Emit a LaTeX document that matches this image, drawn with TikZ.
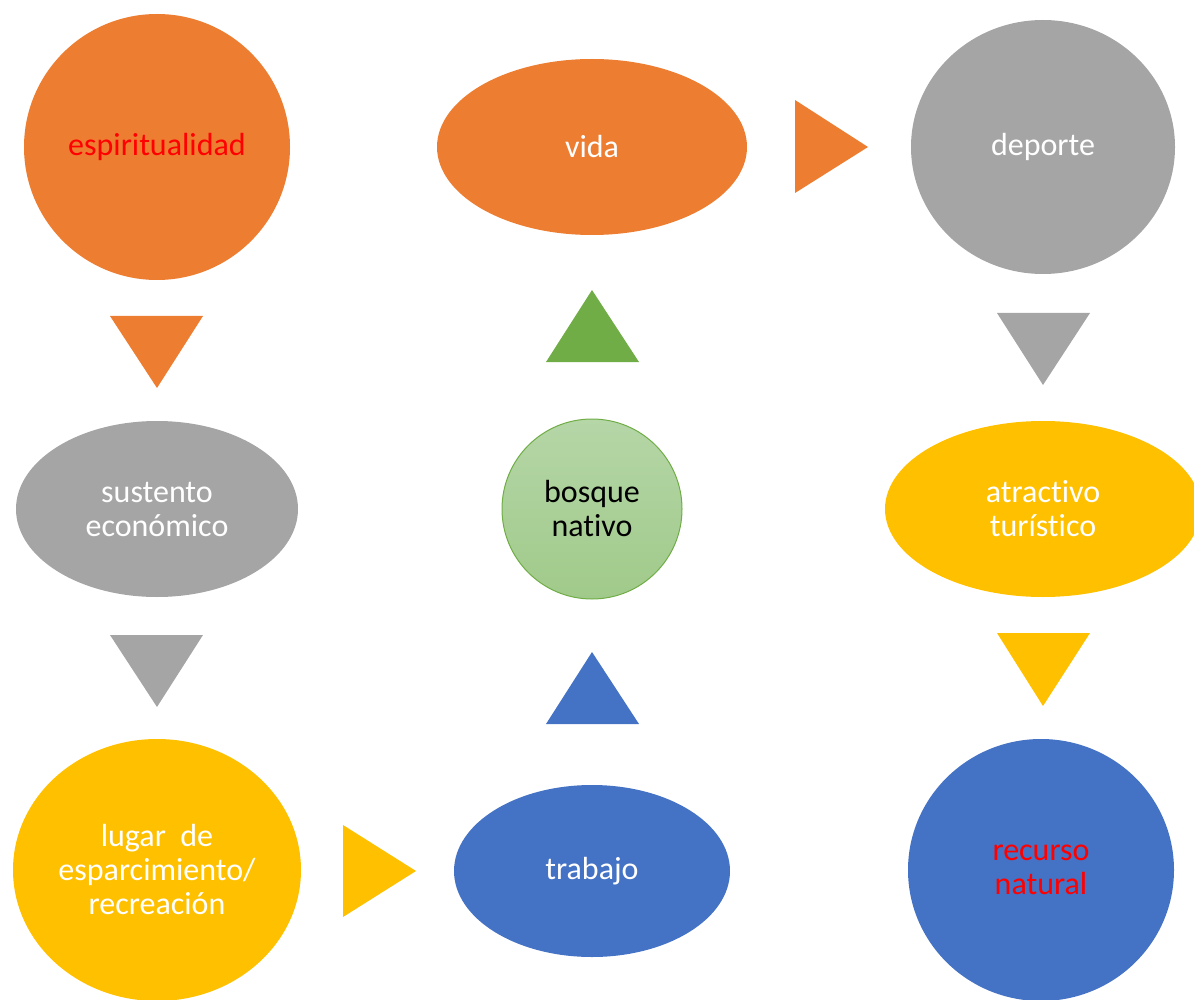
\documentclass[tikz,border=0pt]{standalone}
\usepackage{fontspec}
\setmainfont[Ligatures={NoCommon}]{Carlito}
\usetikzlibrary{shapes.geometric}
\definecolor{oorange}{HTML}{ED7D31}
\definecolor{ogray}{HTML}{A5A5A5}
\definecolor{oyellow}{HTML}{FFC000}
\definecolor{oblue}{HTML}{4472C4}
\definecolor{ogreen}{HTML}{70AD47}
\definecolor{oltop}{HTML}{B5D6A7}
\definecolor{olbot}{HTML}{A0CA8A}
\definecolor{ored}{HTML}{FF0000}
\tikzset{
  blob/.style={ellipse, inner sep=0pt, align=center, text=white,
    font=\fontsize{32}{34}\selectfont}
}
\begin{document}
\begin{tikzpicture}[x=1pt,y=-1pt]
\useasboundingbox (0,0) rectangle (1194,1000);
\clip (0,0) rectangle (1194,1000);
% nodes
\node[blob, fill=oorange, text=ored, minimum width=266, minimum height=266] (esp) at (157,147) {espiritualidad};
\node[blob, fill=oorange, minimum width=310, minimum height=176] (vida) at (592,147) {vida};
\node[blob, fill=ogray, minimum width=264, minimum height=254] (dep) at (1043,147) {deporte};
\node[blob, fill=ogray, minimum width=282, minimum height=176] (sus) at (157,509) {sustento\\econ\'omico};
\node[blob, text=black, draw=ogreen, line width=1pt, top color=oltop, bottom color=olbot, minimum width=180, minimum height=180] (bos) at (592,509) {bosque\\nativo};
\node[blob, fill=oyellow, minimum width=316, minimum height=176] (atr) at (1043,509) {atractivo\\tur\'istico};
\node[blob, fill=oyellow, minimum width=288, minimum height=262] (lug) at (157,870) {lugar~ de\\esparcimiento/\\recreaci\'on};
\node[blob, fill=oblue, minimum width=276, minimum height=172] (tra) at (592,871) {trabajo};
\node[blob, fill=oblue, text=ored, minimum width=266, minimum height=262] (rec) at (1041,870) {recurso\\natural};
% triangles
\fill[oorange] (795,100) -- (795,193) -- (868,147) -- cycle;
\fill[oorange] (110,316) -- (203,316) -- (157,388) -- cycle;
\fill[ogreen] (546,362) -- (639,362) -- (592,290) -- cycle;
\fill[ogray] (997,313) -- (1090,313) -- (1043,385) -- cycle;
\fill[ogray] (110,635) -- (203,635) -- (157,707) -- cycle;
\fill[oblue] (546,724) -- (639,724) -- (592,652) -- cycle;
\fill[oyellow] (997,633) -- (1090,633) -- (1043,706) -- cycle;
\fill[oyellow] (343,825) -- (343,917) -- (416,871) -- cycle;
\end{tikzpicture}
\end{document}
